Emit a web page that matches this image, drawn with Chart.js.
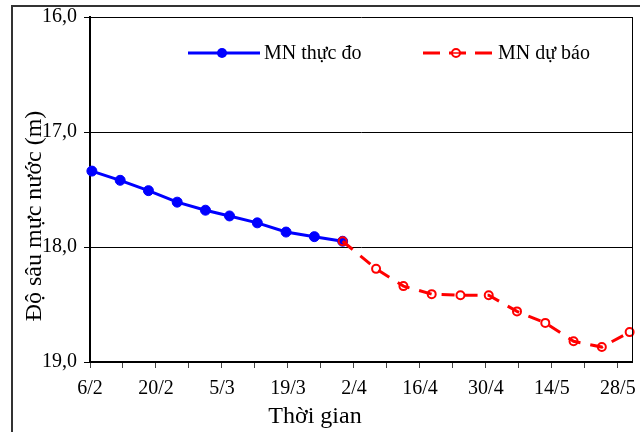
<!DOCTYPE html>
<html>
<head>
<meta charset="utf-8">
<script src="https://cdn.jsdelivr.net/npm/chart.js@4.4.1/dist/chart.umd.min.js"></script>
<style>
    body { margin: 0; background: #fff; overflow: hidden; }
    #wrap { position: relative; width: 640px; height: 432px; }
    #frame {
        position: absolute; left: 11px; top: 5px; width: 700px; height: 500px;
        border-left: 2px solid #333; border-top: 2px solid #333; pointer-events: none;
    }
</style>
</head>
<body>
<div id="wrap">
    <canvas id="chart" width="640" height="432"></canvas>
    <div id="frame"></div>
</div>
<script>
    // ngày tính từ 6/2 (năm nhuận)
    var obsDays = [0.4, 6.4, 12.4, 18.5, 24.5, 29.6, 35.5, 41.6, 47.6, 53.6];
    var obsDepth = [17.34, 17.42, 17.51, 17.61, 17.68, 17.73, 17.79, 17.87, 17.91, 17.95];

    var fcDays = [53.6, 60.7, 66.5, 72.5, 78.6, 84.6, 90.6, 96.6, 102.6, 108.6, 114.5];
    var fcDepth = [17.95, 18.19, 18.34, 18.41, 18.42, 18.42, 18.56, 18.66, 18.82, 18.87, 18.74];

    var tickLabels = ["6/2", "20/2", "5/3", "19/3", "2/4", "16/4", "30/4", "14/5", "28/5"];

    var obsName = "MN thực đo";
    var fcName = "MN dự báo";
    var yTitle = "Độ sâu mực nước (m)";
    var xTitle = "Thời gian";

    var FONT = "'Liberation Serif', 'Times New Roman', serif";

    function toPoints(days, vals) {
        return days.map((d, i) => ({ x: d, y: vals[i] }));
    }

    // khung, chú thích và tên trục
    var extras = {
        id: "extras",
        afterDraw: function (chart) {
            var ctx = chart.ctx;
            var a = chart.chartArea;
            ctx.save();
            // khung bên phải
            ctx.strokeStyle = "#000";
            ctx.lineWidth = 1;
            ctx.beginPath();
            ctx.moveTo(a.right + 0.5, a.top);
            ctx.lineTo(a.right + 0.5, a.bottom);
            ctx.stroke();

            // chú thích
            var ly = 53;
            ctx.lineWidth = 3;
            ctx.strokeStyle = "#0000ff";
            ctx.beginPath();
            ctx.moveTo(188, ly);
            ctx.lineTo(260, ly);
            ctx.stroke();
            ctx.fillStyle = "#0000ff";
            ctx.beginPath();
            ctx.arc(222, ly, 5, 0, Math.PI * 2);
            ctx.fill();

            ctx.strokeStyle = "#ff0000";
            ctx.setLineDash([17, 9]);
            ctx.beginPath();
            ctx.moveTo(423, ly);
            ctx.lineTo(493, ly);
            ctx.stroke();
            ctx.setLineDash([]);
            ctx.lineWidth = 2;
            ctx.fillStyle = "#fff";
            ctx.beginPath();
            ctx.arc(456, ly, 4, 0, Math.PI * 2);
            ctx.fill();
            ctx.stroke();
            ctx.lineWidth = 1.5;
            ctx.beginPath();
            ctx.moveTo(452, ly);
            ctx.lineTo(460, ly);
            ctx.stroke();

            ctx.fillStyle = "#000";
            ctx.font = "20px " + FONT;
            ctx.textBaseline = "middle";
            ctx.textAlign = "left";
            ctx.fillText(obsName, 264, ly + 1);
            ctx.fillText(fcName, 498, ly + 1);

            // tên trục
            ctx.font = "24px " + FONT;
            ctx.textAlign = "center";
            ctx.textBaseline = "alphabetic";
            ctx.fillText(xTitle, 315, 423);
            ctx.translate(41, 216);
            ctx.rotate(-Math.PI / 2);
            ctx.fillText(yTitle, 0, 0);
            ctx.restore();
        }
    };

    var ctx = document.getElementById("chart").getContext("2d");
    new Chart(ctx, {
        type: "line",
        data: {
            datasets: [{
                label: fcName,
                data: toPoints(fcDays, fcDepth),
                order: 0,
                borderColor: "#ff0000",
                borderWidth: 3,
                borderDash: [13, 10],
                pointRadius: 4,
                pointBorderWidth: 2,
                pointBorderColor: "#ff0000",
                pointBackgroundColor: "rgba(0,0,0,0)",
                tension: 0,
                clip: false
            }, {
                label: obsName,
                data: toPoints(obsDays, obsDepth),
                order: 1,
                borderColor: "#0000ff",
                borderWidth: 3,
                pointRadius: 5,
                pointBorderWidth: 1,
                pointBorderColor: "#0000ff",
                pointBackgroundColor: "#0000ff",
                tension: 0,
                clip: false
            }]
        },
        options: {
            responsive: false,
            animation: false,
            layout: { padding: { left: 0, right: 8, top: 17, bottom: 0 } },
            plugins: {
                legend: { display: false },
                tooltip: { enabled: false }
            },
            scales: {
                x: {
                    type: "linear",
                    min: 0,
                    max: 115,
                    afterFit: function (s) {
                        s.height = 70;
                        s.paddingLeft = 0;
                        s.paddingRight = 0;
                    },
                    border: { color: "#000", width: 2 },
                    grid: { drawOnChartArea: false, tickLength: 6, tickColor: "#444" },
                    ticks: {
                        stepSize: 7,
                        includeBounds: false,
                        autoSkip: false,
                        maxRotation: 0,
                        padding: 9,
                        color: "#000",
                        font: { family: FONT, size: 20 },
                        callback: function (v) {
                            return v % 14 === 0 ? tickLabels[v / 14] : "";
                        }
                    }
                },
                y: {
                    min: 16,
                    max: 19,
                    reverse: true,
                    afterFit: function (s) {
                        s.width = 90;
                        s.paddingTop = 0;
                        s.paddingBottom = 0;
                    },
                    border: { color: "#000", width: 2 },
                    grid: { color: "#000", lineWidth: 1, tickLength: 6 },
                    ticks: {
                        stepSize: 1,
                        padding: 7,
                        color: "#000",
                        font: { family: FONT, size: 20 },
                        callback: function (v) { return v.toFixed(1).replace(".", ","); }
                    }
                }
            }
        },
        plugins: [extras]
    });
</script>
</body>
</html>
